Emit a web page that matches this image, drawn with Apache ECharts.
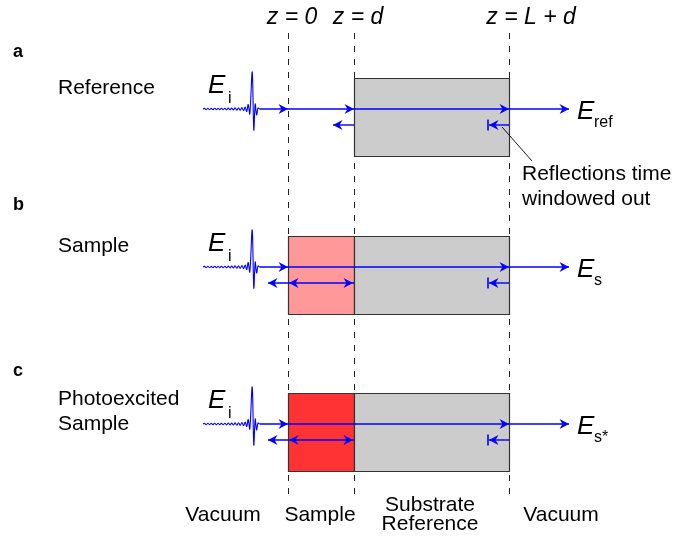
<!DOCTYPE html>
<html><head><meta charset="utf-8">
<script src="https://cdn.jsdelivr.net/npm/echarts@6/dist/echarts.min.js"></script>
<style>html,body{margin:0;padding:0;background:#fff}#c{width:677px;height:540px}</style>
</head><body><div id="c"></div><script>
// ---------------- data ----------------
const boundaryX = [288, 354, 509];                 // z = 0, z = d, z = L + d
const boundaryLabels = ['z = 0', 'z = d', 'z = L + d'];
const panelLetters = ['a', 'b', 'c'];
const panelNames = ['Reference', 'Sample', 'Photoexcited\nSample'];
const rayY = [109, 267, 424];                       // propagation row of each panel
const sampleFill = [null, '#FF9999', '#FF3333'];    // sample layer (none / unexcited / photoexcited)
const inputSub = ['i', 'i', 'i'];
const outputSub = ['ref', 's', 's*'];
const regionNames = ['Vacuum', 'Sample', 'Substrate\nReference', 'Vacuum'];
const noteText = 'Reflections time\nwindowed out';
// THz pulse waveform: [dx from pulse centre, dy from ray]
const pulseShape = [
  [-50,0],[-48.5,-0.6],[-46.8,0.6],[-45.1,-0.6],[-43.4,0.6],[-41.7,-0.6],[-40,0.6],[-38.3,-0.7],
  [-36.6,0.7],[-34.9,-0.7],[-33.2,0.7],[-31.5,-0.8],[-29.8,0.8],[-28.1,-0.8],[-26.4,0.9],[-24.7,-0.9],
  [-23,0.9],[-21.3,-1],[-19.6,1],[-17.9,-1.1],[-16.2,1.2],[-14.5,-1.3],[-12.8,1.4],[-11.1,-1.5],
  [-9.4,1.7],[-7.8,-2],[-6.3,2.5],[-4.8,-4.5],[-3.2,5],[-0.8,-37],[0.8,21],[2.2,-5],[3.6,6],[5,-1],[6.5,0]
];

// ---------------- layout ----------------
const LY = {
  dashTop: 33, dashBot: 498,
  slabTop: -31, slabBot: 47, refl: 16,
  pulseX: 253, outX: 569, windowX: 489, reflLen: 21, reflExt: 20,
  zLabelX: [292, 358, 531], zLabelY: 18,
  letterX: 13, letterY: [52, 205, 371],
  nameX: 58, nameY: [88.5, 246, 412],
  eInX: 208, eInSubX: 228, eOutX: 577, eOutSubX: 594,
  regionX: [223, 320, 430, 561], regionY: 515,
  noteX: 522, noteY: 186.5, leader: [[502, 127], [532, 161]]
};
const FONT = '"Liberation Sans", Arial, Helvetica, sans-serif';
const BLUE = '#0000FF';

// ---------- build element specs from the data ----------
const slabs = [];
rayY.forEach((y, i) => {
  if (sampleFill[i]) slabs.push({x0: boundaryX[0], x1: boundaryX[1], y0: y + LY.slabTop, y1: y + LY.slabBot, fill: sampleFill[i]});
  slabs.push({x0: boundaryX[1], x1: boundaryX[2], y0: y + LY.slabTop, y1: y + LY.slabBot, fill: '#CCCCCC'});
});

const arrows = [];
rayY.forEach((y, i) => {
  const heads = sampleFill[i] ? [boundaryX[0], boundaryX[2], LY.outX] : [boundaryX[0], boundaryX[1], boundaryX[2], LY.outX];
  arrows.push({x0: LY.pulseX + 6.5, x1: LY.outX, y: y, heads: heads.map(h => [h, 1])});
  const ry = y + LY.refl;
  if (sampleFill[i]) {
    arrows.push({x0: boundaryX[0] - LY.reflExt, x1: boundaryX[1], y: ry,
      heads: [[boundaryX[0] - LY.reflExt, -1], [boundaryX[0] + 1, -1], [boundaryX[1] - 1, 1]]});
  } else {
    arrows.push({x0: boundaryX[1] - LY.reflLen, x1: boundaryX[1], y: ry, heads: [[boundaryX[1] - LY.reflLen, -1]]});
  }
  arrows.push({x0: LY.windowX, x1: boundaryX[2], y: ry, heads: [[LY.windowX, -1]], bar: LY.windowX - 1});
});

const texts = [];
boundaryLabels.forEach((t, i) => texts.push({x: LY.zLabelX[i], y: LY.zLabelY, text: t, size: 23, style: 'italic', align: 'center'}));
panelLetters.forEach((t, i) => texts.push({x: LY.letterX, y: LY.letterY[i], text: t, size: 18, weight: 'bold', align: 'left'}));
panelNames.forEach((t, i) => texts.push({x: LY.nameX, y: LY.nameY[i], text: t, size: 21, align: 'left', lh: 25}));
rayY.forEach((y, i) => {
  texts.push({x: LY.eInX, y: y - 23, text: 'E', size: 26, style: 'italic', align: 'left'});
  texts.push({x: LY.eInSubX, y: y - 10, text: inputSub[i], size: 16, align: 'left'});
  texts.push({x: LY.eOutX, y: y + 3, text: 'E', size: 26, style: 'italic', align: 'left'});
  texts.push({x: LY.eOutSubX, y: y + 14, text: outputSub[i], size: 16, align: 'left'});
});
regionNames.forEach((t, i) => texts.push({x: LY.regionX[i], y: LY.regionY, text: t, size: 21, align: 'center', lh: 19}));
texts.push({x: LY.noteX, y: LY.noteY, text: noteText, size: 21, align: 'left', lh: 25});

// ---------------- chart ----------------
const chart = echarts.init(document.getElementById('c'), null, {renderer: 'canvas'});
const px = v => Math.round(v) + 0.5;

function headPts(api, x, y, dir) {
  const p = api.coord([x, y]);
  const Lh = 9.5, W = 5, N = 6.5;
  return [[p[0], p[1]], [p[0] - dir * Lh, p[1] - W], [p[0] - dir * N, p[1]], [p[0] - dir * Lh, p[1] + W]];
}

chart.setOption({
  animation: false,
  grid: {left: 0, right: 0, top: 0, bottom: 0},
  xAxis: {type: 'value', min: 0, max: 677, show: false},
  yAxis: {type: 'value', min: 0, max: 540, inverse: true, show: false},
  series: [
    { // dashed boundaries
      type: 'custom', name: 'boundaries', z: 1, clip: false,
      data: boundaryX.map(x => [x, LY.dashTop]),
      renderItem: (params, api) => {
        const x = boundaryX[params.dataIndex];
        const a = api.coord([x, LY.dashTop]), b = api.coord([x, LY.dashBot]);
        return {type: 'line', shape: {x1: px(a[0]), y1: a[1], x2: px(b[0]), y2: b[1]},
          style: {stroke: '#222', lineWidth: 1, lineDash: [6, 7]}};
      }
    },
    { // layers
      type: 'custom', name: 'layers', z: 2, clip: false,
      data: slabs.map(s => [s.x0, s.y0]),
      renderItem: (params, api) => {
        const s = slabs[params.dataIndex];
        const a = api.coord([s.x0, s.y0]), b = api.coord([s.x1, s.y1]);
        return {type: 'rect', shape: {x: px(a[0]), y: px(a[1]), width: Math.round(b[0] - a[0]), height: Math.round(b[1] - a[1])},
          style: {fill: s.fill, stroke: '#333', lineWidth: 1.2}};
      }
    },
    { // incident pulses
      type: 'custom', name: 'pulse', z: 3, clip: false,
      data: rayY.map(y => [LY.pulseX, y]),
      renderItem: (params, api) => {
        const y = rayY[params.dataIndex];
        const pts = pulseShape.map(d => api.coord([LY.pulseX + d[0], y + d[1]]));
        return {type: 'polyline', shape: {points: pts, smooth: 0.35}, style: {stroke: BLUE, lineWidth: 1.1, fill: null, lineJoin: 'round'}};
      }
    },
    { // arrows
      type: 'custom', name: 'arrows', z: 4, clip: false,
      data: arrows.map(a => [a.x0, a.y]),
      renderItem: (params, api) => {
        const s = arrows[params.dataIndex];
        const a = api.coord([s.x0, s.y]), b = api.coord([s.x1, s.y]);
        const children = [{type: 'line', shape: {x1: a[0], y1: a[1], x2: b[0], y2: b[1]}, style: {stroke: BLUE, lineWidth: 1.4}}];
        s.heads.forEach(h => children.push({type: 'polygon', shape: {points: headPts(api, h[0], s.y, h[1])}, style: {fill: BLUE}}));
        if (s.bar != null) {
          const t = api.coord([s.bar, s.y - 5.5]), u = api.coord([s.bar, s.y + 5.5]);
          children.push({type: 'line', shape: {x1: t[0], y1: t[1], x2: u[0], y2: u[1]}, style: {stroke: BLUE, lineWidth: 1.6}});
        }
        return {type: 'group', children: children};
      }
    },
    { // leader line for note
      type: 'custom', name: 'leader', z: 4, clip: false,
      data: [LY.leader[0]],
      renderItem: (params, api) => {
        const a = api.coord(LY.leader[0]), b = api.coord(LY.leader[1]);
        return {type: 'line', shape: {x1: a[0], y1: a[1], x2: b[0], y2: b[1]}, style: {stroke: '#000', lineWidth: 0.9}};
      }
    },
    { // texts
      type: 'custom', name: 'texts', z: 5, clip: false,
      data: texts.map(t => [t.x, t.y]),
      renderItem: (params, api) => {
        const t = texts[params.dataIndex];
        const p = api.coord([t.x, t.y]);
        return {type: 'text', x: p[0], y: p[1], style: {
          text: t.text, fill: '#000', fontFamily: FONT, fontSize: t.size,
          fontStyle: t.style || 'normal', fontWeight: t.weight || 'normal',
          align: t.align, verticalAlign: 'middle', lineHeight: t.lh || t.size
        }};
      }
    }
  ]
});
</script></body></html>
